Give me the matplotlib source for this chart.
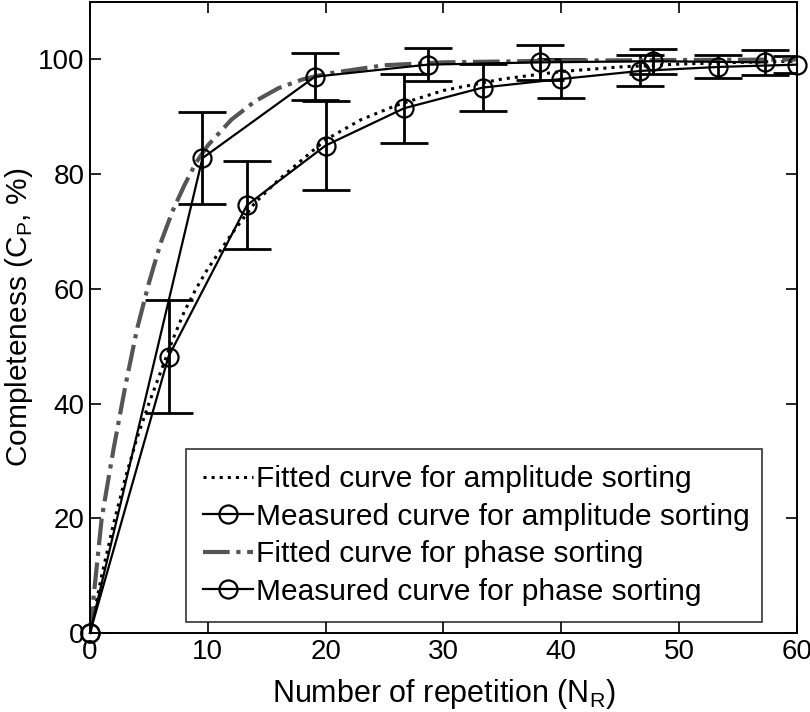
import matplotlib
matplotlib.use("Agg")
import matplotlib.pyplot as plt

plt.rcParams['font.family'] = ['Liberation Sans', 'DejaVu Sans']

# measured curves
amp_x = [0, 6.67, 13.33, 20, 26.67, 33.33, 40, 46.67, 53.33, 60]
amp_y = [0, 48.2, 74.6, 85.0, 91.5, 95.1, 96.6, 98.0, 98.7, 99.1]
amp_err = [0, 9.9, 7.7, 7.7, 6.0, 4.1, 3.4, 2.7, 2.0, 1.5]

phase_x = [0, 9.55, 19.1, 28.65, 38.2, 47.75, 57.3]
phase_y = [0, 82.8, 97.0, 99.1, 99.5, 99.7, 99.5]
phase_err = [0, 8.0, 4.1, 2.9, 3.0, 2.2, 2.2]

# fitted curves
amp_fit_x = [0, 1, 2, 3, 4, 5, 6, 7, 8, 9, 10, 12, 14, 16, 18, 20, 23, 26, 30, 35, 40, 45, 50, 55, 60]
amp_fit_y = [0, 10, 19, 27, 34, 40, 45.5, 51, 56, 60, 63.5, 69.5, 75, 79, 82.5, 86, 89.5, 92, 94.6, 96.6, 97.9, 98.7, 99.2, 99.5, 99.7]

phase_fit_x = [0, 1, 2, 3, 4, 5, 6, 7, 8, 9, 10, 12, 14, 16, 18, 20, 25, 30, 40, 50, 60]
phase_fit_y = [0, 20, 32, 43, 53, 61, 68, 73.5, 78, 82, 85, 89.5, 92.7, 95, 96.5, 97.5, 99, 99.5, 99.8, 99.9, 100]

fig = plt.figure(figsize=(8.1, 7.12), dpi=100)
ax = fig.add_axes([0.111, 0.111, 0.873, 0.886])

ax.plot(amp_fit_x, amp_fit_y, ':', color='black', lw=2.2,
        label='Fitted curve for amplitude sorting')
ax.errorbar(amp_x, amp_y, yerr=amp_err, fmt='none', ecolor='black',
            elinewidth=2, capsize=17, capthick=2)
ax.plot(amp_x, amp_y, '-o', color='black', lw=1.6, ms=13, mfc='none',
        mew=1.6, clip_on=False, zorder=5,
        label='Measured curve for amplitude sorting')
ax.plot(phase_fit_x, phase_fit_y, '-.', color='#555555', lw=3,
        label='Fitted curve for phase sorting')
ax.errorbar(phase_x, phase_y, yerr=phase_err, fmt='none', ecolor='black',
            elinewidth=2, capsize=17, capthick=2)
ax.plot(phase_x, phase_y, '-o', color='black', lw=1.6, ms=13, mfc='none',
        mew=1.6, clip_on=False, zorder=5,
        label='Measured curve for phase sorting')

ax.set_xlim(0, 60)
ax.set_ylim(0, 110)
ax.set_xticks(range(0, 61, 10))
ax.set_yticks(range(0, 101, 20))
ax.tick_params(direction='in', length=8, width=1.2, top=True, right=True,
               labelsize=20, pad=4)
for s in ax.spines.values():
    s.set_linewidth(1.4)

ax.set_xlabel(r'Number of repetition (N$_\mathregular{R}$)', fontsize=22, labelpad=9)
ax.set_ylabel(r'Completeness (C$_\mathregular{P}$, %)', fontsize=21.5, labelpad=2)

leg = ax.legend(loc='lower left', bbox_to_anchor=(0.136, 0.017, 0.814, 0.284),
                mode='expand', fontsize=21.5, frameon=True, fancybox=False,
                edgecolor='black', handlelength=1.7, handletextpad=0.1,
                borderpad=0.55, labelspacing=0.32, borderaxespad=0)
leg.get_frame().set_linewidth(1.2)

fig.savefig('out.png', dpi=100)
